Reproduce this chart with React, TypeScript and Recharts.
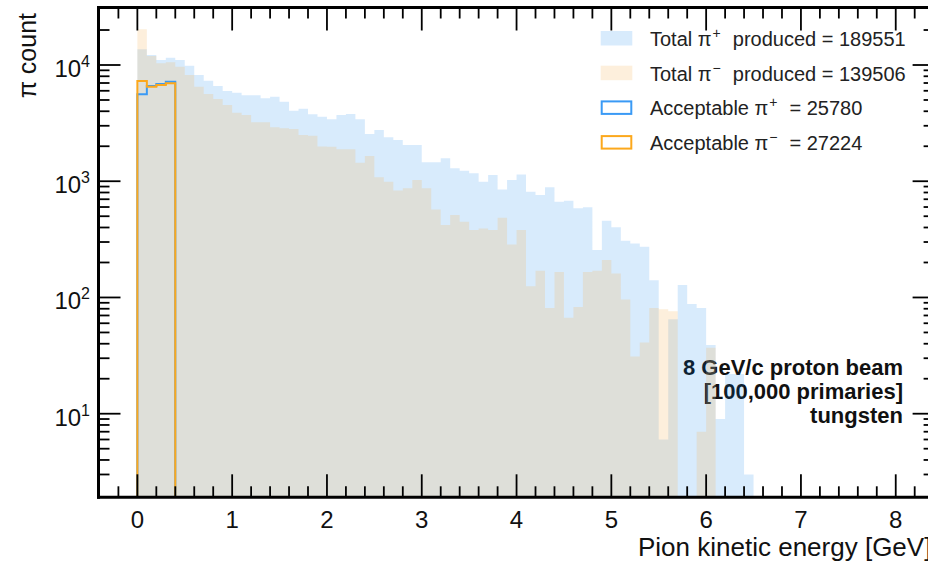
import React from 'react';
import { ComposedChart, Area, Line, XAxis, YAxis, ReferenceLine } from 'recharts';

// ---------- data ----------
const BIN_WIDTH = 0.1;
const N_BINS = 65;
const binLow: number[] = Array.from({ length: N_BINS }, (_, k) => k / 10);

const piPlusCounts = [
  13650, 12190, 11040, 11560, 11040, 9860, 8200, 7330, 6595, 5973,
  5775, 5486, 5486, 5170, 5336, 4833, 4044, 4206, 3765, 3590,
  3410, 3713, 3787, 3410, 2548, 2758, 2387, 2262, 2048, 2048,
  1455, 1455, 1574, 1291, 1231, 1169, 990, 1131, 848, 1024,
  1142, 812, 761, 886, 666, 680, 585, 596, 256, 457,
  401, 308, 292, 273, 141, 6, 65, 128, 88, 81,
  39, 9, 22, 22, 3,
];

const piMinusCounts = [
  20290, 11950, 10340, 10550, 9670, 8200, 6505, 5628, 5098, 4528,
  3886, 3713, 3213, 3213, 2910, 2853, 2814, 2498, 2464, 1989,
  1981, 1882, 1882, 1443, 1648, 1080, 990, 832, 869, 1024,
  869, 571, 420, 512, 448, 380, 392, 380, 485, 286,
  380, 125, 170, 81, 166, 67, 83, 166, 170, 210,
  161, 96, 31, 41, 81, 79, 76, 0, 0, 7,
  37, 0, 0, 0, 0,
];

const accPlusCounts = [5600, 6590, 6860, 7180];
const accMinusCounts = [7280, 6505, 6730, 6960];

const legendLabels = ['Total π', 'Total π', 'Acceptable π', 'Acceptable π'];
const legendCharges = ['+', '−', '+', '−'];
const legendSuffix = ['produced', 'produced', '', ''];
const legendTotals = [189551, 139506, 25780, 27224];

const annotationLines = ['8 GeV/c proton beam', '[100,000 primaries]', 'tungsten'];

const xTicks: number[] = Array.from({ length: 43 }, (_, i) => Math.round(-2 + i * 2) / 10);
const xLabelValues = [0, 1, 2, 3, 4, 5, 6, 7, 8];
const yDecades = [10, 100, 1000, 10000];
const yTicks = [
  3, 4, 5, 6, 7, 8, 9,
  10, 20, 30, 40, 50, 60, 70, 80, 90,
  100, 200, 300, 400, 500, 600, 700, 800, 900,
  1000, 2000, 3000, 4000, 5000, 6000, 7000, 8000, 9000,
  10000, 20000,
];

// ---------- layout / style ----------
const X_DOMAIN: [number, number] = [-0.41, 8.41];
const Y_DOMAIN: [number, number] = [1.909, 31240];
const CHART_W = 940;
const CHART_H = 569;
const PLOT_LEFT = 98.5;
const PLOT_TOP = 7.5;
const PLOT_BOTTOM = 497.3;
const PLOT_RIGHT = 934.6;
const FLOOR = 1; // below the axis minimum, used for empty bins on the log scale

const FONT = '"Liberation Sans", Arial, Helvetica, sans-serif';
const PLUS_FILL = '#007deb';
const PLUS_OPACITY = 0.153;
const MINUS_FILL = '#f6b660';
const MINUS_OPACITY = 0.22;
const PLUS_LINE = '#3a9af5';
const MINUS_LINE = '#fca81c';

const histRows = (counts: number[]) => {
  const rows = counts.map((c, k) => ({ x: binLow[k], y: c > 0 ? c : FLOOR }));
  const last = counts[counts.length - 1];
  rows.push({ x: binLow[counts.length - 1] + BIN_WIDTH, y: last > 0 ? last : FLOOR });
  return rows;
};

const outlineRows = (counts: number[]) => {
  const rows = [{ x: binLow[0], y: FLOOR }];
  counts.forEach((c, k) => rows.push({ x: binLow[k], y: c }));
  rows.push({ x: binLow[counts.length - 1] + BIN_WIDTH, y: FLOOR });
  return rows;
};

const plusRows = histRows(piPlusCounts);
const minusRows = histRows(piMinusCounts);
const accPlusRows = outlineRows(accPlusCounts);
const accMinusRows = outlineRows(accMinusCounts);

const XTick = (props: any) => {
  const { x, payload } = props;
  const v = payload.value;
  const major = Math.abs(v - Math.round(v)) < 1e-6;
  const len = major ? 23 : 11;
  return (
    <g>
      <line x1={x} x2={x} y1={PLOT_BOTTOM} y2={PLOT_BOTTOM - len} stroke="#000" strokeWidth={1.8} />
      <line x1={x} x2={x} y1={PLOT_TOP} y2={PLOT_TOP + len} stroke="#000" strokeWidth={1.8} />
      {major && xLabelValues.includes(Math.round(v)) ? (
        <text x={x} y={528} textAnchor="middle" fontFamily={FONT} fontSize={24} fill="#111">
          {Math.round(v)}
        </text>
      ) : null}
    </g>
  );
};

const YTick = (props: any) => {
  const { y, payload } = props;
  const v = payload.value;
  const major = yDecades.includes(v);
  const len = major ? 22 : 11;
  return (
    <g>
      <line x1={PLOT_LEFT} x2={PLOT_LEFT + len} y1={y} y2={y} stroke="#000" strokeWidth={1.8} />
      <line x1={PLOT_RIGHT - len} x2={PLOT_RIGHT} y1={y} y2={y} stroke="#000" strokeWidth={1.8} />
      {major ? (
        <text x={90} y={y + 12} textAnchor="end" fontFamily={FONT} fontSize={24} fill="#111">
          10
          <tspan dy={-10} fontSize={16}>{Math.round(Math.log10(v))}</tspan>
        </text>
      ) : null}
    </g>
  );
};

const Legend = () => {
  const rowTop = (i: number) => 31 + i * 34.7;
  return (
    <g fontFamily={FONT}>
      {legendTotals.map((t, i) => {
        const top = rowTop(i);
        const swatch =
          i === 0 ? (
            <rect x={600.7} y={top} width={31.6} height={14.5} fill={PLUS_FILL} fillOpacity={PLUS_OPACITY} />
          ) : i === 1 ? (
            <rect x={600.7} y={top} width={31.6} height={14.5} fill={MINUS_FILL} fillOpacity={MINUS_OPACITY} />
          ) : (
            <rect x={601.7} y={top + 1} width={29.6} height={12.5} fill="#fff" stroke={i === 2 ? PLUS_LINE : MINUS_LINE} strokeWidth={2} />
          );
        return (
          <g key={i}>
            {swatch}
            <text x={650} y={top + 15} fontSize={20} fill="#222">
              {legendLabels[i]}
              <tspan dy={-8} dx={1} fontSize={14}>{legendCharges[i]}</tspan>
              <tspan dy={8} dx={12}>{legendSuffix[i] ? `${legendSuffix[i]} = ${t}` : `= ${t}`}</tspan>
            </text>
          </g>
        );
      })}
    </g>
  );
};

const Annotation = () => (
  <g fontFamily={FONT} fontWeight="bold" fontSize={22} fill="#111">
    {annotationLines.map((s, i) => (
      <text key={i} x={903} y={375 + i * 24} textAnchor="end">{s}</text>
    ))}
  </g>
);

const AxisTitles = () => (
  <g fontFamily={FONT} fill="#111">
    <text x={638} y={556} fontSize={26}>Pion kinetic energy [GeV]</text>
    <text transform="rotate(-90)" x={-13} y={36} textAnchor="end" fontSize={25}>π count</text>
  </g>
);

export default function App() {
  return (
    <div style={{ position: 'absolute', left: 0, top: 0, width: 928, height: 569, overflow: 'hidden', background: '#fff' }}>
      <ComposedChart
        width={CHART_W}
        height={CHART_H}
        margin={{ top: PLOT_TOP, right: CHART_W - PLOT_RIGHT, bottom: 0, left: 0 }}
      >
        <Area
          data={plusRows}
          dataKey="y"
          type="stepAfter"
          stroke="none"
          fill={PLUS_FILL}
          fillOpacity={PLUS_OPACITY}
          baseValue="dataMin"
          dot={false}
          activeDot={false}
          isAnimationActive={false}
        />
        <Area
          data={minusRows}
          dataKey="y"
          type="stepAfter"
          stroke="none"
          fill={MINUS_FILL}
          fillOpacity={MINUS_OPACITY}
          baseValue="dataMin"
          dot={false}
          activeDot={false}
          isAnimationActive={false}
        />
        <Line
          data={accPlusRows}
          dataKey="y"
          type="stepAfter"
          stroke={PLUS_LINE}
          strokeWidth={2}
          dot={false}
          activeDot={false}
          isAnimationActive={false}
        />
        <Line
          data={accMinusRows}
          dataKey="y"
          type="stepAfter"
          stroke={MINUS_LINE}
          strokeWidth={2}
          dot={false}
          activeDot={false}
          isAnimationActive={false}
        />
        <XAxis
          type="number"
          dataKey="x"
          domain={X_DOMAIN}
          allowDataOverflow
          ticks={xTicks}
          interval={0}
          tickLine={false}
          axisLine={{ stroke: '#000', strokeWidth: 3, strokeLinecap: 'square' }}
          tick={<XTick />}
          height={CHART_H - PLOT_BOTTOM}
        />
        <YAxis
          type="number"
          scale="log"
          domain={Y_DOMAIN}
          allowDataOverflow
          ticks={yTicks}
          interval={0}
          tickLine={false}
          axisLine={{ stroke: '#000', strokeWidth: 3, strokeLinecap: 'square' }}
          tick={<YTick />}
          width={PLOT_LEFT}
        />
        <ReferenceLine y={Y_DOMAIN[1]} stroke="#000" strokeWidth={3} strokeLinecap="square" />
        <Legend />
        <Annotation />
        <AxisTitles />
      </ComposedChart>
    </div>
  );
}
